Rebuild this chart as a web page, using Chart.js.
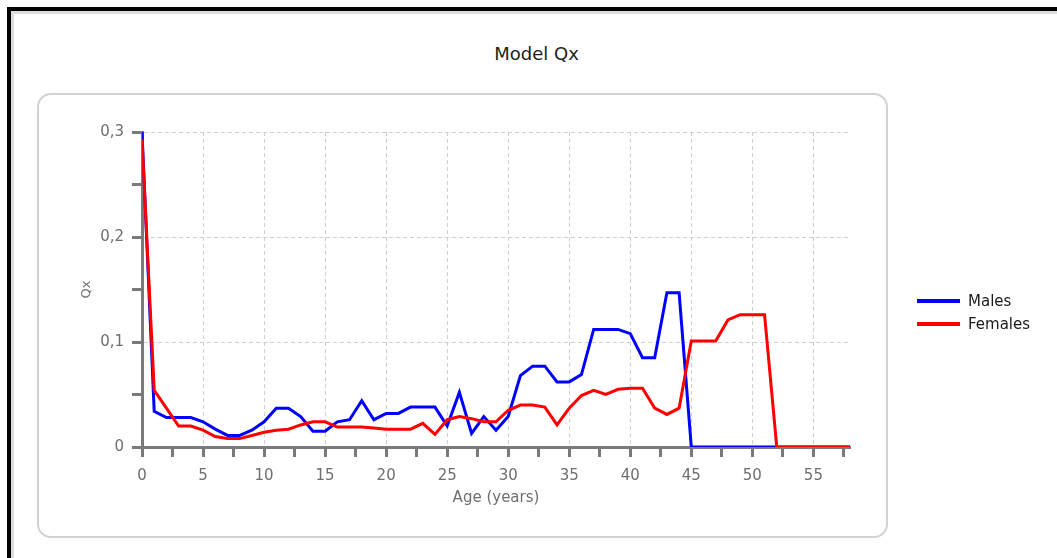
<!DOCTYPE html>
<html>
<head>
<meta charset="utf-8">
<script src="https://cdn.jsdelivr.net/npm/chart.js@4/dist/chart.umd.min.js"></script>
<style>
  html, body { margin: 0; padding: 0; background: #fff; overflow: hidden; }
  body { width: 1057px; height: 558px; position: relative; font-family: 'DejaVu Sans', sans-serif; }
  .frame { position: absolute; left: 7px; top: 7px; width: 1100px; height: 600px;
           border-top: 4px solid #000; border-left: 4px solid #000;
           box-shadow: inset 3px 3px 0 #ddd; }
  .title { position: absolute; left: 0; width: 1073px; top: 43px; text-align: center;
           font-size: 18px; color: #222; }
  .panel { position: absolute; left: 37px; top: 93px; width: 847px; height: 441px;
           border: 2px solid #d2d2d2; border-radius: 14px; }
  #qx { position: absolute; left: 0; top: 0; }
</style>
</head>
<body>
<div class="frame"></div>
<div class="title">Model Qx</div>
<div class="panel"></div>
<canvas id="qx" width="1057" height="558"></canvas>
<script>
// Model Qx — probabilité de décès par âge, hommes / femmes

const AXIS = '#7a7a7a';
const GRID = '#cfcfcf';
const TEXT = '#6e6e6e';
const FONT = 'DejaVu Sans';

const ages = Array.from({ length: 59 }, (_, i) => i);   // 0..58
const males = [
  0.300, 0.034, 0.028, 0.028, 0.028, 0.024, 0.017, 0.011, 0.011, 0.016,
  0.024, 0.037, 0.037, 0.029, 0.015, 0.015, 0.024, 0.026, 0.044, 0.026,
  0.032, 0.032, 0.038, 0.038, 0.038, 0.020, 0.052, 0.013, 0.029, 0.016,
  0.029, 0.068, 0.077, 0.077, 0.062, 0.062, 0.069, 0.112, 0.112, 0.112,
  0.108, 0.085, 0.085, 0.147, 0.147, 0, 0, 0, 0, 0,
  0, 0, 0, 0, 0, 0, 0, 0, 0
];
const females = [
  0.293, 0.054, 0.037, 0.020, 0.020, 0.016, 0.010, 0.008, 0.008, 0.011,
  0.014, 0.016, 0.017, 0.021, 0.024, 0.024, 0.019, 0.019, 0.019, 0.018,
  0.017, 0.017, 0.017, 0.0225, 0.012, 0.026, 0.029, 0.027, 0.024, 0.024,
  0.035, 0.040, 0.040, 0.038, 0.021, 0.037, 0.049, 0.054, 0.050, 0.055,
  0.056, 0.056, 0.037, 0.031, 0.037, 0.101, 0.101, 0.101, 0.121, 0.126,
  0.126, 0.126, 0, 0, 0, 0, 0, 0, 0
];

const toPoints = arr => ages.map((a, i) => ({ x: a, y: arr[i] }));
const isMajorX = v => Math.abs(v % 5) < 1e-9;
const isMajorY = v => Math.round(v * 100) % 10 === 0;

// légende maison, à droite du panneau
const sideLegend = {
  id: 'sideLegend',
  afterDraw(chart) {
    const { ctx } = chart;
    ctx.save();
    ctx.font = `15px "${FONT}"`;
    ctx.textBaseline = 'middle';
    chart.data.datasets.forEach((ds, i) => {
      const y = 301 + i * 23;
      ctx.strokeStyle = ds.borderColor;
      ctx.lineWidth = 4;
      ctx.beginPath();
      ctx.moveTo(917, y);
      ctx.lineTo(960, y);
      ctx.stroke();
      ctx.fillStyle = '#1a1a1a';
      ctx.fillText(ds.label, 968, y + 1);
    });
    ctx.restore();
  }
};

new Chart(document.getElementById('qx'), {
  type: 'line',
  data: {
    datasets: [
      { label: 'Males', data: toPoints(males), borderColor: '#0000ff', borderWidth: 3,
        pointRadius: 0, tension: 0, order: 1 },
      { label: 'Females', data: toPoints(females), borderColor: '#ff0000', borderWidth: 3,
        pointRadius: 0, tension: 0, order: 0 }
    ]
  },
  options: {
    responsive: false,
    animation: false,
    events: [],
    layout: { padding: { left: 70, top: 132, right: 207, bottom: 46 } },
    plugins: { legend: { display: false }, tooltip: { enabled: false } },
    scales: {
      x: {
        type: 'linear', min: 0, max: 58,
        afterFit: s => { s.height = 65; },
        ticks: {
          stepSize: 2.5, includeBounds: false, autoSkip: false, maxRotation: 0,
          padding: 10, color: TEXT, font: { family: FONT, size: 15 },
          callback: v => isMajorX(v) ? String(v) : ''
        },
        grid: {
          color: c => (c.tick && isMajorX(c.tick.value) && c.tick.value > 0) ? GRID : 'transparent',
          lineWidth: 1, tickLength: 10, tickWidth: 3, tickColor: AXIS
        },
        border: { color: AXIS, width: 3, dash: [4, 3] },
        title: { display: true, text: 'Age (years)', color: TEXT,
                 font: { family: FONT, size: 15 }, padding: { top: 0, bottom: 5 } }
      },
      y: {
        min: 0, max: 0.3,
        afterFit: s => { s.width = 72; },
        ticks: {
          stepSize: 0.05, padding: 8, color: TEXT, font: { family: FONT, size: 15 },
          callback: v => isMajorY(v) ? String(Math.round(v * 10) / 10).replace('.', ',') : ''
        },
        grid: {
          color: c => (c.tick && isMajorY(c.tick.value) && c.tick.value > 0.01) ? GRID : 'transparent',
          lineWidth: 1, tickLength: 10, tickWidth: 3, tickColor: AXIS
        },
        border: { color: AXIS, width: 3, dash: [4, 3] },
        title: { display: true, text: 'Qx', color: TEXT,
                 font: { family: FONT, size: 13 }, padding: { top: 9, bottom: 0 } }
      }
    }
  },
  plugins: [sideLegend]
});
</script>
</body>
</html>
